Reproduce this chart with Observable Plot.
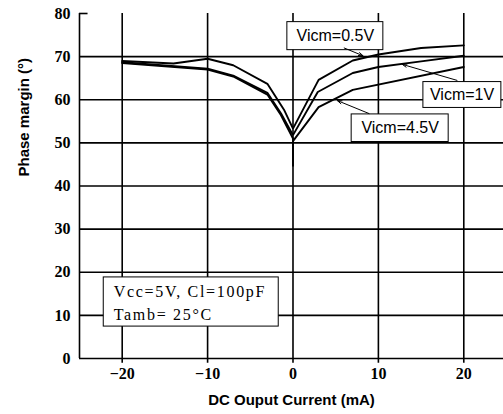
<!DOCTYPE html>
<html>
<head>
<meta charset="utf-8">
<script src="https://cdn.jsdelivr.net/npm/d3@7"></script>
<script src="https://cdn.jsdelivr.net/npm/@observablehq/plot@0.6"></script>
<style>
  html, body { margin: 0; padding: 0; background: #fff; }
  #chart svg { display: block; }
</style>
</head>
<body>
<div id="chart"></div>
<script>
// ---- data ----
const xTicks = [-20, -10, 0, 10, 20];
const yTicks = [0, 10, 20, 30, 40, 50, 60, 70, 80];
const yGrid = [10, 20, 30, 40, 50, 60, 70];

const current05 = [-20, -14, -10, -7, -3, -1, 0, 3, 7, 10, 15, 20];
const pm05 = [69.0, 68.4, 69.5, 68.0, 63.7, 57.5, 53.3, 64.6, 69.1, 70.5, 72.0, 72.6];

const current1 = [-20, -10, -7, -3, -1.4, 0, 2.9, 7, 10, 15, 20];
const pm1 = [68.7, 67.2, 65.6, 61.6, 56.8, 51.8, 61.8, 66.2, 67.6, 68.9, 70.2];

const current45 = [-20, -10, -7, -3, -1.4, 0, 0, 0, 3, 7, 20];
const pm45 = [68.5, 67.0, 65.4, 61.2, 56.4, 51.0, 44.5, 50.4, 58.3, 62.3, 67.6];

const seriesNames = ["Vicm=0.5V", "Vicm=1V", "Vicm=4.5V"];
const labelX = [4.96, 19.8, 12.55];
const labelY = [74.8, 61.1, 53.4];
const boxX1 = [-0.66, 15.27, 6.87];
const boxX2 = [10.58, 24.4, 18.23];
const boxY1 = [71.5, 58.1, 50.2];
const boxY2 = [78.0, 64.1, 56.6];
const arrowX1 = [6.0, 19.2, 8.9];
const arrowY1 = [72.0, 64.5, 56.8];
const arrowX2 = [8.2, 12.8, 5.2];
const arrowY2 = [70.2, 68.2, 59.8];

const condText = "Vcc=5V, Cl=100pF\nTamb= 25°C";
const condBox = {x1: -22.16, x2: -1.67, y1: 7.4, y2: 18.8};
const condPos = {x: -21.0, y: 13.4};

const xTitle = "DC Ouput Current (mA)";
const yTitle = "Phase margin (°)";

const xDomain = [-25, 24.65];
const yDomain = [0, 80];

// ---- build tables ----
const rows = [];
[[current05, pm05, seriesNames[0]], [current1, pm1, seriesNames[1]], [current45, pm45, seriesNames[2]]]
  .forEach(([xs, ys, name]) => xs.forEach((x, i) => rows.push({x, y: ys[i], s: name})));
const notes = seriesNames.map((t, i) => ({
  t, x: labelX[i], y: labelY[i],
  bx1: boxX1[i], bx2: boxX2[i], by1: boxY1[i], by2: boxY2[i],
  ax1: arrowX1[i], ay1: arrowY1[i], ax2: arrowX2[i], ay2: arrowY2[i]
}));

const sans = "Liberation Sans, Arial, sans-serif";
const serif = "Liberation Serif, Times New Roman, serif";

const plot = Plot.plot({
  width: 503,
  height: 414,
  marginLeft: 79,
  marginRight: 0,
  marginTop: 13,
  marginBottom: 56,
  x: {domain: xDomain},
  y: {domain: yDomain},
  style: {fontFamily: serif, fontSize: "16px", background: "#fff", color: "#000"},
  marks: [
    // gridlines
    Plot.ruleY(yGrid, {x1: xDomain[0], x2: xDomain[1], stroke: "#000", strokeWidth: 1.6}),
    Plot.ruleX(xTicks, {y1: -1.1, y2: yDomain[1], stroke: "#000", strokeWidth: 1.6}),
    Plot.ruleY([yDomain[1]], {x1: xDomain[0], x2: xDomain[0] + 1, stroke: "#000", strokeWidth: 1.6}),
    // axis lines
    Plot.ruleX([xDomain[0]], {y1: yDomain[0], y2: yDomain[1], stroke: "#000", strokeWidth: 1.6}),
    Plot.ruleY([yDomain[0]], {x1: xDomain[0], x2: xDomain[1], stroke: "#000", strokeWidth: 1.6}),
    // tick labels
    Plot.axisX(xTicks, {tickSize: 0, tickPadding: 9, fontWeight: "bold", fontFamily: serif, fontSize: 16,
      tickFormat: d => d < 0 ? "\u2212" + Math.abs(d) : String(d), label: null}),
    Plot.axisY(yTicks, {tickSize: 0, tickPadding: 9, fontWeight: "bold", fontFamily: serif, fontSize: 16, label: null}),
    // axis titles
    Plot.text([xTitle], {frameAnchor: "bottom", dy: 46, lineAnchor: "bottom", fontFamily: sans, fontWeight: "bold", fontSize: 15}),
    Plot.text([yTitle], {frameAnchor: "left", dx: -55, dy: -9.5, rotate: -90, fontFamily: sans, fontWeight: "bold", fontSize: 15}),
    // condition box
    Plot.rect([condBox], {x1: "x1", x2: "x2", y1: "y1", y2: "y2", fill: "#fff", stroke: "#000", strokeWidth: 1}),
    Plot.text([condPos], {x: "x", y: "y", text: () => condText, textAnchor: "start", lineAnchor: "middle",
      lineHeight: 1.45, fontFamily: serif, fontSize: 16,
      render: (i, s, v, d, c, next) => { const g = next(i, s, v, d, c); g.setAttribute("letter-spacing", "1.7"); return g; }}),
    // curve labels
    Plot.rect(notes, {x1: "bx1", x2: "bx2", y1: "by1", y2: "by2", fill: "#fff", stroke: "#000", strokeWidth: 1}),
    Plot.text(notes, {x: "x", y: "y", text: "t", fontFamily: sans, fontSize: 16}),
    // curves
    Plot.line(rows, {x: "x", y: "y", z: "s", stroke: "#000", strokeWidth: 1.9, strokeLinejoin: "miter"}),
    // arrows
    Plot.arrow(notes, {x1: "ax1", y1: "ay1", x2: "ax2", y2: "ay2", stroke: "#000", strokeWidth: 1, headLength: 7, headAngle: 40})
  ]
});
document.getElementById("chart").appendChild(plot);
</script>
</body>
</html>
